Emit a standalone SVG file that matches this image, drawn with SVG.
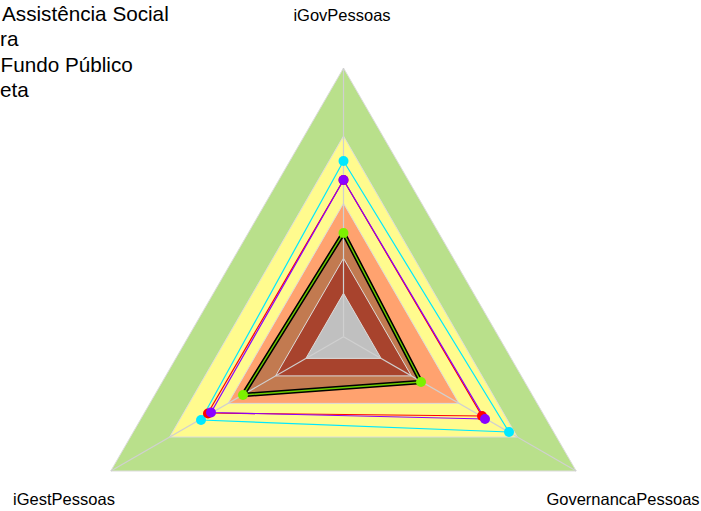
<svg xmlns="http://www.w3.org/2000/svg" width="701" height="511" viewBox="0 0 701 511">
<style>
.lbl{font-family:"Liberation Sans",Arial,sans-serif;font-size:16.5px;fill:#000}
.leg{font-family:"Liberation Sans",Arial,sans-serif;font-size:20.7px;fill:#000}
.band{stroke:#dcdcdc;stroke-width:1}
.axis{stroke:#d0d0d0;stroke-width:1.2;fill:none}
.ser{fill:none;stroke-width:1.2;stroke-linejoin:round}
</style>
<rect width="701" height="511" fill="#fff"/>
<g id="legend">
<text class="leg" x="2" y="21">Assistência Social</text>
<text class="leg" x="0" y="46">ra</text>
<text class="leg" x="0.5" y="72">Fundo Público</text>
<text class="leg" x="0" y="97">eta</text>
</g>
<g id="bands">
<polygon class="band" fill="#b9e08b" points="343.5,68 110.8,471 576.2,471"/>
<polygon class="band" fill="#fffb8e" points="343.5,136 169.7,437 517.3,437"/>
<polygon class="band" fill="#ffa26f" points="343.5,203.3 228,403.4 459,403.4"/>
<polygon fill="#c27a50" points="343,233 243,395 421,382"/>
<polygon class="band" fill="#a8432d" points="343.5,258.3 275.6,375.9 411.4,375.9"/>
<polygon class="band" fill="#c0c0c0" points="343.5,293.3 305.9,358.4 381.1,358.4"/>
</g>
<g id="axes">
<line class="axis" x1="343.5" y1="336.7" x2="343.5" y2="68"/>
<line class="axis" x1="343.5" y1="336.7" x2="110.8" y2="471"/>
<line class="axis" x1="343.5" y1="336.7" x2="576.2" y2="471"/>
</g>
<g id="series-lines">
<polygon class="ser" stroke="#00e8ff" points="343.5,161 201,420 509,432"/>
<polygon class="ser" stroke="#ff0000" stroke-width="1.6" points="343.5,180 208,413 482,416"/>
<polygon class="ser" stroke="#8a00ff" points="343.5,180 211,412.5 485,419"/>
<polygon fill="none" stroke="#000" stroke-width="4.5" stroke-linejoin="round" points="343.5,233 243,395 421,382"/>
<polygon fill="none" stroke="#6ccc00" stroke-width="1.4" stroke-linejoin="round" points="343.5,233 243,395 421,382"/>
</g>
<g id="series-points">
<circle cx="343.5" cy="161" r="5" fill="#00e8ff"/>
<circle cx="201" cy="420" r="5" fill="#00e8ff"/>
<circle cx="509" cy="432" r="5" fill="#00e8ff"/>
<circle cx="343.5" cy="180" r="5" fill="#ff0000"/>
<circle cx="208" cy="413.5" r="5" fill="#ff0000"/>
<circle cx="482" cy="416" r="5" fill="#ff0000"/>
<circle cx="343.5" cy="180" r="5" fill="#8a00ff"/>
<circle cx="211" cy="412.5" r="5" fill="#8a00ff"/>
<circle cx="485" cy="419" r="5" fill="#8a00ff"/>
<circle cx="343.5" cy="233" r="5" fill="#7cf000"/>
<circle cx="243" cy="395" r="5" fill="#7cf000"/>
<circle cx="421" cy="382" r="5" fill="#7cf000"/>
</g>
<g id="axis-labels">
<text class="lbl" x="342" y="21" text-anchor="middle">iGovPessoas</text>
<text class="lbl" x="64" y="505" text-anchor="middle">iGestPessoas</text>
<text class="lbl" x="623" y="505" text-anchor="middle">GovernancaPessoas</text>
</g>
</svg>
